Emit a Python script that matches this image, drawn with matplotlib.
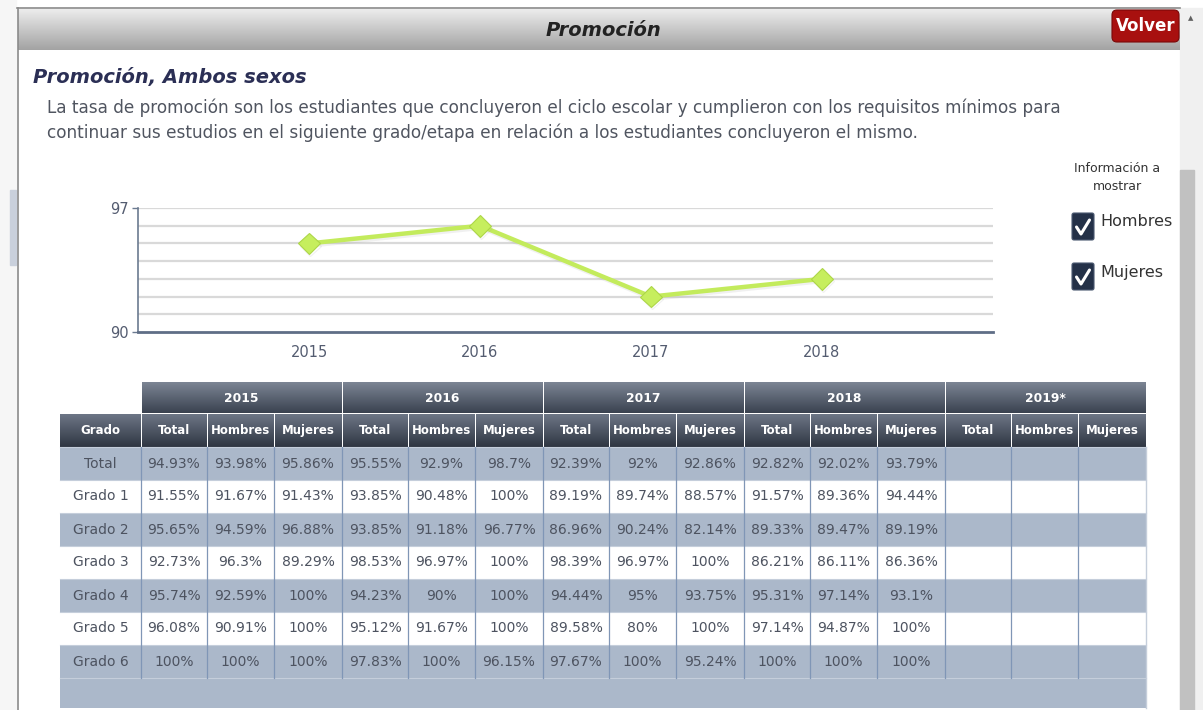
import matplotlib.pyplot as plt
import matplotlib.patheffects as pe
from matplotlib.patches import Rectangle, FancyBboxPatch
import numpy as np

# Chart data (rounded totals shown in the line chart)
chart_years = ['2015', '2016', '2017', '2018']
chart_values = [95, 96, 92, 93]

# Table data
table_years = ['2015', '2016', '2017', '2018', '2019*']
sub_cols = ['Total', 'Hombres', 'Mujeres']
grados = ['Total', 'Grado 1', 'Grado 2', 'Grado 3', 'Grado 4', 'Grado 5', 'Grado 6']

t2015 = [[94.93, 93.98, 95.86], [91.55, 91.67, 91.43], [95.65, 94.59, 96.88], [92.73, 96.3, 89.29],
         [95.74, 92.59, 100], [96.08, 90.91, 100], [100, 100, 100]]
t2016 = [[95.55, 92.9, 98.7], [93.85, 90.48, 100], [93.85, 91.18, 96.77], [98.53, 96.97, 100],
         [94.23, 90, 100], [95.12, 91.67, 100], [97.83, 100, 96.15]]
t2017 = [[92.39, 92, 92.86], [89.19, 89.74, 88.57], [86.96, 90.24, 82.14], [98.39, 96.97, 100],
         [94.44, 95, 93.75], [89.58, 80, 100], [97.67, 100, 95.24]]
t2018 = [[92.82, 92.02, 93.79], [91.57, 89.36, 94.44], [89.33, 89.47, 89.19], [86.21, 86.11, 86.36],
         [95.31, 97.14, 93.1], [97.14, 94.87, 100], [100, 100, 100]]
t2019 = []
table_data = [t2015, t2016, t2017, t2018, t2019]

W, H = 1203, 710
fig = plt.figure(figsize=(W / 100, H / 100), dpi=100)
plt.rcParams['font.family'] = ['DejaVu Sans']

# Page canvas in pixel coordinates
pg = fig.add_axes([0, 0, 1, 1])
pg.set_xlim(0, W)
pg.set_ylim(H, 0)
pg.axis('off')


def gradient(x0, y0, x1, y1, c_top, c_bot, z=1):
    c0 = np.array(plt.matplotlib.colors.to_rgb(c_top))
    c1 = np.array(plt.matplotlib.colors.to_rgb(c_bot))
    t = np.linspace(0, 1, 64)[:, None]
    img = (c0 * (1 - t) + c1 * t)[:, None, :]
    pg.imshow(img, extent=(x0, x1, y1, y0), aspect='auto', zorder=z, interpolation='bilinear')


# page borders / scrollbar
pg.add_patch(Rectangle((0, 0), 16, H, color='#f6f6f6', zorder=0))
pg.add_patch(Rectangle((10, 190), 6, 75, color='#c9d0dc', zorder=0))
pg.plot([17.5, 17.5], [8, H], color='#8a8a8a', lw=1.2, zorder=3)
pg.plot([17, 1180], [8, 8], color='#8a8a8a', lw=1.2, zorder=3)
pg.add_patch(Rectangle((1180, 8), 23, H, color='#f0f0f0', zorder=0))
pg.add_patch(Rectangle((1180, 170), 14, H - 170, color='#c1c1c1', zorder=1))
pg.text(1191, 18, '▲', fontsize=5, color='#606060', ha='center', va='center')

# header bar
gradient(18, 9, 1180, 50, '#ececec', '#a3a3a3')
pg.text(603, 30, 'Promoción', fontsize=14, fontweight='bold', fontstyle='italic',
        color='#222222', ha='center', va='center', zorder=5)
pg.add_patch(FancyBboxPatch((1112, 10), 67, 32, boxstyle='round,pad=0,rounding_size=5',
                            facecolor='#a8100f', edgecolor='#7a0808', lw=0.8, zorder=4))
pg.text(1146, 26, 'Volver', fontsize=12, fontweight='bold', color='white',
        ha='center', va='center', zorder=5)

# titles
pg.text(33, 78, 'Promoción, Ambos sexos', fontsize=14, fontweight='bold', fontstyle='italic',
        color='#2b2f55', ha='left', va='center')
desc = ['La tasa de promoción son los estudiantes que concluyeron el ciclo escolar y cumplieron con los requisitos mínimos para',
        'continuar sus estudios en el siguiente grado/etapa en relación a los estudiantes concluyeron el mismo.']
for i, line in enumerate(desc):
    pg.text(47, 108 + 25 * i, line, fontsize=12.2, color='#505560', ha='left', va='center')

# check boxes
pg.text(1117, 168, 'Información a', fontsize=9, color='#333333', ha='center', va='center')
pg.text(1117, 187, 'mostrar', fontsize=9, color='#333333', ha='center', va='center')
for yb, lab in [(213, 'Hombres'), (263, 'Mujeres')]:
    pg.add_patch(FancyBboxPatch((1072, yb), 22, 27, boxstyle='round,pad=0,rounding_size=2',
                                facecolor='#243148', edgecolor='#4a5870', lw=0.8, zorder=3))
    pg.plot([1076.5, 1081, 1089.5], [yb + 14, yb + 21, yb + 7], color='white', lw=2.2,
            solid_capstyle='round', zorder=4)
    pg.text(1100, yb + 9, lab, fontsize=11.5, color='#333333', ha='left', va='center')

# line chart
ax = fig.add_axes([138 / W, 1 - 332 / H, 855 / W, 124 / H])
x = np.arange(1, len(chart_years) + 1)
ax.set_xlim(0, 5)
ax.set_ylim(90, 97)
for g in range(91, 98):
    ax.axhline(g, color='#d9d9d9', lw=1.6, zorder=1)
ax.plot(x, chart_values, color='#c3eb5c', lw=3.2, marker='D', markersize=11,
        markerfacecolor='#c6ee5e', markeredgecolor='#add648', markeredgewidth=0.8, zorder=3,
        path_effects=[pe.SimpleLineShadow(offset=(1, -1.5), shadow_color='#888888', alpha=0.12),
                      pe.Normal()])
ax.set_xticks(x)
ax.set_xticklabels(chart_years)
ax.set_yticks([90, 97])
ax.tick_params(axis='x', length=0, pad=9, labelsize=10.5, labelcolor='#545c70')
ax.tick_params(axis='y', length=4, width=1, color='#6b7a90', pad=3, labelsize=10.5, labelcolor='#545c70')
for s in ['top', 'right']:
    ax.spines[s].set_visible(False)
ax.spines['left'].set_color('#6b7a90')
ax.spines['left'].set_linewidth(1.2)
ax.spines['bottom'].set_color('#5f6e86')
ax.spines['bottom'].set_linewidth(2)
ax.patch.set_alpha(0)

# table
grado_x0, grado_x1 = 60, 141
group_w = 201
sub_w = [66, 67, 68]
y_head1, y_head2, y_rows = 382, 414, 447
row_h = 33
n_rows = len(grados)
row_gray = '#abb8ca'
text_col = '#4d5360'

# year header row
for k, yr in enumerate(table_years):
    gx = grado_x1 + k * group_w
    gradient(gx + 0.5, y_head1, gx + group_w - 0.5, y_head2 - 1, '#7c8594', '#3a4250', z=2)
    pg.text(gx + group_w / 2, (y_head1 + y_head2) / 2, yr, fontsize=8.8, fontweight='bold',
            color='white', ha='center', va='center', zorder=5)

# sub header row
gradient(grado_x0, y_head2, grado_x1 - 0.5, y_rows, '#6d7686', '#2f3642', z=2)
pg.text((grado_x0 + grado_x1) / 2, (y_head2 + y_rows) / 2, 'Grado', fontsize=8.5,
        fontweight='bold', color='white', ha='center', va='center', zorder=5)
col_edges = []
for k in range(len(table_years)):
    cx = grado_x1 + k * group_w
    for j, sc in enumerate(sub_cols):
        gradient(cx + 0.5, y_head2, cx + sub_w[j] - 0.5, y_rows, '#6d7686', '#2f3642', z=2)
        pg.text(cx + sub_w[j] / 2, (y_head2 + y_rows) / 2, sc, fontsize=8.5, fontweight='bold',
                color='white', ha='center', va='center', zorder=5)
        col_edges.append((cx, cx + sub_w[j]))
        cx += sub_w[j]

# body rows
table_x1 = grado_x1 + len(table_years) * group_w
for i, gname in enumerate(grados):
    y0 = y_rows + i * row_h
    fc = row_gray if i % 2 == 0 else 'white'
    pg.add_patch(Rectangle((grado_x0, y0), table_x1 - grado_x0, row_h, facecolor=fc,
                           edgecolor='none', zorder=1))
    pg.plot([grado_x0, table_x1], [y0, y0], color='#c5cedb', lw=0.8, zorder=2)
    pg.text((grado_x0 + grado_x1) / 2, y0 + row_h / 2, gname, fontsize=10, color=text_col,
            ha='center', va='center', zorder=5)
    for k, yd in enumerate(table_data):
        if not yd:
            continue
        for j in range(3):
            c0, c1 = col_edges[k * 3 + j]
            pg.text((c0 + c1) / 2, y0 + row_h / 2, f'{yd[i][j]:g}%', fontsize=10, color=text_col,
                    ha='center', va='center', zorder=5)

rows_end = y_rows + n_rows * row_h
pg.add_patch(Rectangle((grado_x0, rows_end), table_x1 - grado_x0, 708 - rows_end,
                       facecolor=row_gray, edgecolor='none', zorder=1))
pg.plot([grado_x0, table_x1], [rows_end, rows_end], color='#c5cedb', lw=0.8, zorder=2)
for c0, c1 in col_edges:
    pg.plot([c0, c0], [y_rows, rows_end], color='#8096b6', lw=0.9, zorder=3)
pg.plot([table_x1, table_x1], [y_rows, 708], color='#c5cedb', lw=1, zorder=3)

pg.set_xlim(0, W)
pg.set_ylim(H, 0)

plt.savefig('out.png', dpi=100)
